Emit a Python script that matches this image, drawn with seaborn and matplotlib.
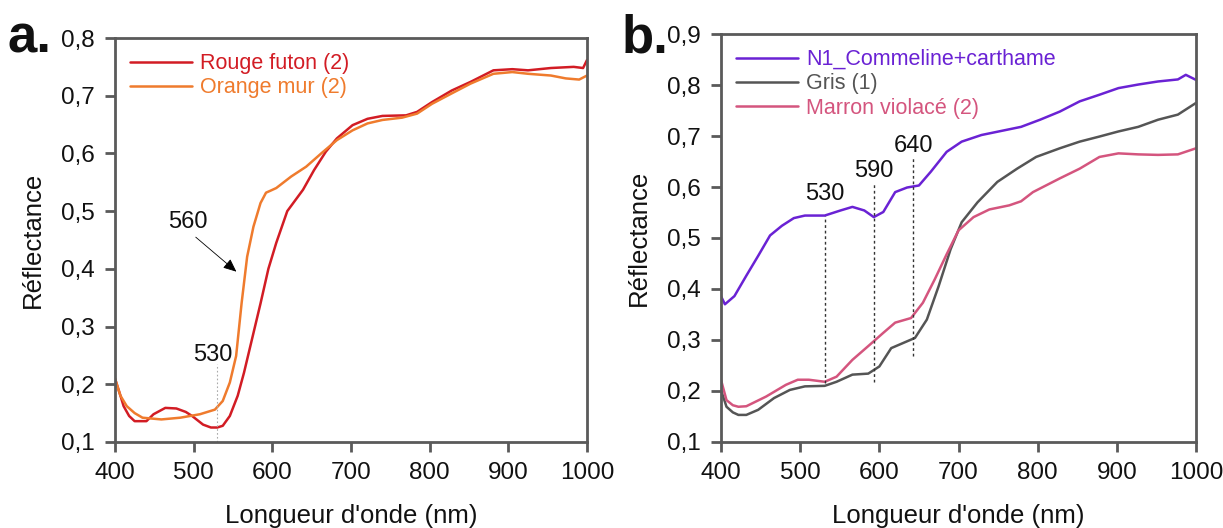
import matplotlib
matplotlib.use("Agg")
import matplotlib.pyplot as plt
import seaborn as sns
import pandas as pd

# panel a data
wl_rouge = [400, 407, 411, 418, 425, 440, 449, 464, 478, 490, 498, 512, 522, 530, 537, 546, 556, 564, 571, 578,
            585, 595, 605, 619, 639, 653, 668, 682, 702, 721, 740, 770, 784, 803, 828, 852, 881, 905, 925, 954, 983, 995, 1000]
rouge = [0.21, 0.18, 0.162, 0.145, 0.136, 0.136, 0.148, 0.159, 0.158, 0.152, 0.145, 0.13, 0.125, 0.125, 0.128, 0.145, 0.18, 0.22, 0.26, 0.30,
         0.34, 0.40, 0.445, 0.50, 0.537, 0.571, 0.603, 0.626, 0.649, 0.66, 0.665, 0.666, 0.672, 0.689, 0.709, 0.724, 0.744, 0.746, 0.744, 0.748, 0.75, 0.748, 0.762]
wl_orange = [400, 407, 415, 425, 435, 459, 483, 508, 527, 537, 546, 554, 561, 568, 576, 585, 592, 597, 605, 624,
             643, 663, 682, 702, 721, 740, 765, 784, 803, 828, 852, 881, 905, 925, 954, 973, 990, 1000]
orange = [0.21, 0.18, 0.162, 0.15, 0.142, 0.139, 0.142, 0.148, 0.156, 0.171, 0.203, 0.249, 0.341, 0.421, 0.473, 0.514, 0.532, 0.535, 0.54, 0.56,
          0.577, 0.601, 0.623, 0.64, 0.652, 0.658, 0.662, 0.669, 0.686, 0.704, 0.721, 0.738, 0.741, 0.738, 0.735, 0.73, 0.728, 0.735]

# panel b data
wl_violet = [400, 405, 417, 432, 447, 462, 477, 492, 506, 531, 551, 566, 581, 593, 605, 620, 635, 650, 665, 685,
             704, 729, 754, 779, 803, 828, 853, 878, 902, 927, 952, 977, 987, 1000]
violet = [0.386, 0.37, 0.386, 0.426, 0.465, 0.505, 0.524, 0.539, 0.544, 0.544, 0.554, 0.561, 0.554, 0.541, 0.551, 0.59, 0.599, 0.603, 0.63, 0.669,
          0.689, 0.702, 0.71, 0.718, 0.732, 0.748, 0.768, 0.781, 0.794, 0.801, 0.807, 0.811, 0.82, 0.81]
wl_gris = [400, 407, 415, 422, 432, 447, 467, 487, 506, 531, 546, 566, 586, 600, 615, 630, 645, 660, 675, 690,
           704, 724, 749, 774, 798, 828, 853, 878, 902, 927, 952, 977, 1000]
gris = [0.202, 0.169, 0.158, 0.153, 0.153, 0.163, 0.186, 0.202, 0.209, 0.21, 0.218, 0.232, 0.234, 0.248, 0.284, 0.294, 0.304, 0.34, 0.406, 0.478,
        0.531, 0.57, 0.61, 0.636, 0.659, 0.676, 0.689, 0.699, 0.709, 0.718, 0.732, 0.742, 0.765]
wl_marron = [400, 407, 415, 422, 432, 457, 482, 497, 511, 531, 546, 566, 586, 605, 620, 640, 655, 670, 685, 700,
             719, 739, 764, 779, 794, 828, 853, 878, 902, 927, 952, 977, 1000]
marron = [0.222, 0.182, 0.172, 0.169, 0.17, 0.189, 0.212, 0.222, 0.222, 0.218, 0.228, 0.261, 0.288, 0.314, 0.334, 0.343, 0.373, 0.419, 0.468, 0.515,
          0.541, 0.556, 0.564, 0.572, 0.59, 0.617, 0.636, 0.659, 0.666, 0.664, 0.663, 0.664, 0.676]

c_rouge, c_orange = "#d21c24", "#ef7b2d"
c_violet, c_gris, c_marron = "#6a22d4", "#555555", "#d4557e"
spine_col = "#5a5a5a"
txt_col = "#111111"

sns.set_style("white")
plt.rcParams['font.family'] = ['Liberation Sans', 'DejaVu Sans']
plt.rcParams['text.color'] = txt_col
plt.rcParams['axes.labelcolor'] = txt_col
plt.rcParams['xtick.labelcolor'] = txt_col
plt.rcParams['ytick.labelcolor'] = txt_col

fig = plt.figure(figsize=(12.23, 5.28), dpi=100)
ax1 = fig.add_axes([0.094, 0.163, 0.386, 0.765])
ax2 = fig.add_axes([0.5895, 0.163, 0.3885, 0.7725])


def style_ax(ax, ymin, ymax):
    ax.set_xlim(400, 1000)
    ax.set_ylim(ymin, ymax)
    ax.set_xticks([400, 500, 600, 700, 800, 900, 1000])
    yt = [round(0.1 * i, 1) for i in range(1, int(round(ymax * 10)) + 1)]
    ax.set_yticks(yt)
    ax.set_yticklabels([("%.1f" % v).replace(".", ",") for v in yt])
    for s in ax.spines.values():
        s.set_color(spine_col)
        s.set_linewidth(2)
    ax.tick_params(axis='both', which='both', direction='out', length=7.5, width=2,
                   color=spine_col, labelsize=17.5, pad=7, bottom=True, left=True)
    ax.set_xlabel("Longueur d'onde (nm)", fontsize=18.5, labelpad=14)
    ax.set_ylabel("Réflectance", fontsize=18.5, labelpad=12)


# panel a
sns.lineplot(x=wl_rouge, y=rouge, ax=ax1, color=c_rouge, lw=1.8, label="Rouge futon (2)")
sns.lineplot(x=wl_orange, y=orange, ax=ax1, color=c_orange, lw=1.8, label="Orange mur (2)")
style_ax(ax1, 0.1, 0.8)
ax1.plot([530, 530], [0.1, 0.235], ls=(0, (1.5, 2)), color="#aaaaaa", lw=0.8)
ax1.text(524, 0.232, "530", fontsize=17, ha='center', va='bottom')
ax1.text(493, 0.482, "560", fontsize=17, ha='center', va='center')
ax1.annotate("", xy=(557, 0.392), xytext=(500, 0.458),
             arrowprops=dict(arrowstyle="-|>,head_length=0.8,head_width=0.35", color="black", lw=0.6))
leg = ax1.legend(loc='upper left', frameon=False, fontsize=15.5, handlelength=2.9, handletextpad=0.35,
                 bbox_to_anchor=(0.0, 1.0), borderaxespad=0.3, labelspacing=0.15)
for t, c in zip(leg.get_texts(), [c_rouge, c_orange]):
    t.set_color(c)
fig.text(0.006, 0.9, "a.", fontsize=38, fontweight='bold', color=txt_col)

# panel b
sns.lineplot(x=wl_violet, y=violet, ax=ax2, color=c_violet, lw=1.8, label="N1_Commeline+carthame")
sns.lineplot(x=wl_gris, y=gris, ax=ax2, color=c_gris, lw=1.8, label="Gris (1)")
sns.lineplot(x=wl_marron, y=marron, ax=ax2, color=c_marron, lw=1.8, label="Marron violacé (2)")
style_ax(ax2, 0.1, 0.9)
for x0, y0, y1, ty in [(531, 0.215, 0.544, 0.565), (593, 0.218, 0.61, 0.61), (643, 0.268, 0.656, 0.658)]:
    ax2.plot([x0, x0], [y0, y1], ls=(0, (2, 2)), color="#333333", lw=1)
    ax2.text(x0, ty, str(int(round(x0 / 10.0) * 10)), fontsize=17, ha='center', va='bottom')
leg = ax2.legend(loc='upper left', frameon=False, fontsize=15.5, handlelength=2.9, handletextpad=0.35,
                 bbox_to_anchor=(0.0, 1.0), borderaxespad=0.3, labelspacing=0.15)
for t, c in zip(leg.get_texts(), [c_violet, c_gris, c_marron]):
    t.set_color(c)
fig.text(0.508, 0.9, "b.", fontsize=38, fontweight='bold', color=txt_col)

fig.savefig("out.png", dpi=100)
